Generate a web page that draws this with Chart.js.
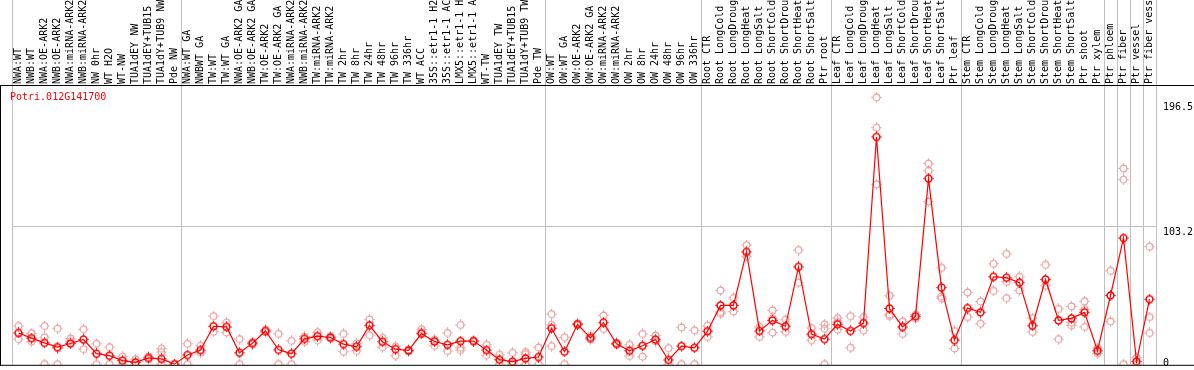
<!DOCTYPE html>
<html lang="en">
<head>
<meta charset="UTF-8">
<title>Potri.012G141700</title>
<script src="https://cdn.jsdelivr.net/npm/chart.js"></script>
<style>
  body { margin: 0; background: #fff; }
  canvas { display: block; }
</style>
</head>
<body>
<canvas id="grafico" width="1194" height="370"></canvas>
<script>
const geneName = 'Potri.012G141700';

const labels = [
  'NWA:WT', 'NWB:WT', 'NWA:OE-ARK2', 'NWB:OE-ARK2', 'NWA:miRNA-ARK2', 'NWB:miRNA-ARK2', 'NW 0hr', 'WT H2O', 'WT-NW',
  'TUA1dEY NW', 'TUA1dEY+TUB15', 'TUA1dY+TUB9 NW', 'Pde NW',
  'NWA:WT GA', 'NWBWT GA', 'TW:WT', 'TW:WT GA', 'NWA:OE-ARK2 GA', 'NWB:OE-ARK2 GA', 'TW:OE-ARK2', 'TW:OE-ARK2 GA',
  'NWA:miRNA-ARK2', 'NWB:miRNA-ARK2', 'TW:miRNA-ARK2', 'TW:miRNA-ARK2', 'TW 2hr', 'TW 8hr', 'TW 24hr', 'TW 48hr',
  'TW 96hr', 'TW 336hr', 'WT ACC', '35S::etr1-1 H2', '35S::etr1-1 AC', 'LMX5::etr1-1 H', 'LMX5::etr1-1 A', 'WT-TW',
  'TUA1dEY TW', 'TUA1dEY+TUB15', 'TUA1dY+TUB9 TW', 'Pde TW',
  'OW:WT', 'OW:WT GA', 'OW:OE-ARK2', 'OW:OE-ARK2 GA', 'OW:miRNA-ARK2', 'OW:miRNA-ARK2', 'OW 2hr', 'OW 8hr',
  'OW 24hr', 'OW 48hr', 'OW 96hr', 'OW 336hr',
  'Root CTR', 'Root LongCold', 'Root LongDroug', 'Root LongHeat', 'Root LongSalt', 'Root ShortCold', 'Root ShortDrou',
  'Root ShortHeat', 'Root ShortSalt', 'Ptr root',
  'Leaf CTR', 'Leaf LongCold', 'Leaf LongDroug', 'Leaf LongHeat', 'Leaf LongSalt', 'Leaf ShortCold', 'Leaf ShortDrou',
  'Leaf ShortHeat', 'Leaf ShortSalt', 'Ptr leaf',
  'Stem CTR', 'Stem LongCold', 'Stem LongDroug', 'Stem LongHeat', 'Stem LongSalt', 'Stem ShortCold', 'Stem ShortDrou',
  'Stem ShortHeat', 'Stem ShortSalt', 'Ptr shoot', 'Ptr xylem',
  'Ptr phloem', 'Ptr fiber', 'Ptr vessel', 'Ptr fiber vess'
];

// first category of each group (a grey line is drawn before it)
const groupStarts = [0, 13, 41, 53, 63, 73, 84, 85, 86, 87];

// mean expression
const means = [
  23.3, 19.4, 15.9, 12.7, 15.4, 18.4, 7.8, 6.3, 2.6, 1.3, 4.6, 3.9, 0,
  6.8, 10.5, 28.3, 27.8, 8.5, 15.7, 24.8, 10.7, 7.8, 18.9, 20.9, 19.9, 15.0, 13.0, 29.0, 16.7,
  11.2, 10.2, 22.8, 16.9, 14.4, 17.2, 17.2, 10.5, 3.3, 1.9, 4.3, 5.3,
  26.8, 9.3, 29.8, 19.6, 31.0, 15.2, 10.0, 13.7, 18.4, 3.1, 13.5, 12.2,
  24.6, 43.9, 43.9, 83.9, 24.8, 32.7, 28.3, 72.7, 22.4, 18.7,
  29.8, 24.8, 30.7, 169.8, 41.6, 27.8, 35.7, 138.7, 57.2, 17.9,
  41.9, 38.7, 65.3, 64.6, 60.9, 28.7, 63.3, 32.7, 34.2, 38.7, 10.0,
  51.3, 94.2, 1.9, 48.5
];

// replicates
const rep1 = [
  28.5, 23.1, 28.5, 26.5, 19.1, 26.1, 15.2, 12.7, 5.6, 3.6, 5.6, 11.5, 0,
  15.2, 13.7, 35.9, 31.0, 18.7, 16.5, 25.6, 22.6, 17.4, 16.7, 23.8, 21.0, 22.6, 15.4, 33.5, 19.6,
  13.2, 10.8, 26.1, 13.7, 23.3, 29.3, 17.8, 14.4, 7.0, 8.5, 9.0, 12.4,
  37.4, 20.1, 30.5, 18.5, 36.4, 16.0, 14.4, 22.6, 21.4, 12.0, 27.5, 25.3,
  28.7, 55.0, 49.5, 89.0, 27.8, 40.1, 33.2, 85.3, 27.0, 29.8,
  34.4, 35.9, 35.2, 199.4, 51.2, 32.0, 34.2, 149.9, 72.0, 24.8,
  53.5, 46.8, 75.0, 82.4, 65.3, 34.4, 74.2, 41.3, 43.1, 47.0, 12.0,
  69.8, 146.3, 4.8, 87.8
];
const rep2 = [
  18.7, 16.9, 20.1, 0, 17.2, 11.2, 0, 0, 0, 0, 3.6, 9.0, null,
  0, 8.5, 24.3, 23.6, 0, 14.8, 23.9, 0, 0, 20.5, 17.9, 18.8, 9.3, 9.8, 21.6, 12.7,
  6.3, 9.6, 24.0, 18.5, 9.8, 12.2, 16.6, 6.8, 0, 0, 7.5, 0,
  29.3, 0, 29.0, 21.0, 26.3, 14.5, 6.1, 5.6, 17.0, 0, 0, 0,
  20.4, 37.7, 39.4, 80.4, 20.4, 23.6, 24.1, 60.9, 17.9, 26.5,
  31.5, 12.2, 25.3, 176.7, 37.2, 22.6, 37.0, 144.6, 50.5, 11.7,
  35.2, 30.2, 54.7, 61.6, 55.0, 24.1, 58.6, 18.7, 29.0, 27.8, 8.0,
  32.0, 137.9, 0, 35.2
];
const rep3 = [
  null, null, 0, 11.6, null, null, null, null, null, null, null, 0, null,
  null, null, null, null, null, null, null, null, null, null, null, null, null, null, null, null,
  null, null, null, null, null, 10.5, null, null, null, null, 0, null,
  13.5, null, null, null, null, null, null, null, null, null, null, null,
  null, 39.0, null, null, null, 34.5, null, null, null, 0,
  26.0, null, null, 134.4, 36.0, null, null, 121.6, 49.0, null,
  null, null, null, 49.3, null, null, null, null, 31.0, 41.0, null,
  null, 0, null, 23.3
];

const yTicks = [0, 103.2, 196.5];
const yMin = -0.5;
const yMax = 207.9;

const fonte = { family: 'DejaVu Sans Mono', size: 10 };

// ring with four little spikes, like the original plot markers
function marcador(cor, largura) {
  const c = document.createElement('canvas');
  c.width = 11;
  c.height = 11;
  const g = c.getContext('2d');
  g.strokeStyle = cor;
  g.fillStyle = cor;
  g.lineWidth = largura;
  g.beginPath();
  g.arc(5.5, 5.5, 3.4, 0, Math.PI * 2);
  g.stroke();
  g.fillRect(5, 0.3, 1, 1.5);
  g.fillRect(5, 9.2, 1, 1.5);
  g.fillRect(0.3, 5, 1.5, 1);
  g.fillRect(9.2, 5, 1.5, 1);
  return c;
}

const corMedia = '#ff0000';
const corRep = '#ec9a9a';
const pontoMedia = marcador(corMedia, 1.5);
const pontoRep = marcador(corRep, 1.1);
const recorte = { left: 10, right: 10, top: 10, bottom: 0 };

function serieRep(dados) {
  return {
    data: dados,
    showLine: false,
    pointStyle: pontoRep,
    pointRadius: 4,
    clip: recorte,
    order: 1
  };
}

// black frame and the gene name
const moldura = {
  id: 'moldura',
  afterDraw(chart) {
    const { ctx, chartArea, width } = chart;
    ctx.save();
    ctx.fillStyle = '#000';
    ctx.fillRect(0, chartArea.top - 1, width, 1);
    ctx.fillRect(0, chartArea.bottom, width, 1);
    ctx.fillRect(0, chartArea.top - 1, 1, chartArea.bottom - chartArea.top + 2);
    ctx.fillStyle = corMedia;
    ctx.font = '10px "DejaVu Sans Mono"';
    ctx.textBaseline = 'middle';
    ctx.fillText(geneName, 10, chartArea.top + 11);
    ctx.restore();
  }
};

new Chart(document.getElementById('grafico'), {
  type: 'line',
  data: {
    labels: labels,
    datasets: [
      {
        data: means,
        borderColor: corMedia,
        borderWidth: 1.2,
        pointStyle: pontoMedia,
        pointRadius: 4,
        tension: 0,
        fill: false,
        clip: recorte,
        order: 0
      },
      serieRep(rep1),
      serieRep(rep2),
      serieRep(rep3)
    ]
  },
  options: {
    responsive: false,
    devicePixelRatio: 1,
    animation: false,
    layout: { padding: { left: 12, right: 0, top: 0, bottom: 1 } },
    plugins: { legend: { display: false }, tooltip: { enabled: false } },
    scales: {
      x: {
        type: 'category',
        position: 'top',
        offset: true,
        grid: {
          offset: true,
          tickLength: 86,
          color: ctx => (ctx.index === undefined || groupStarts.includes(ctx.index)) ? '#c0c0c0' : 'rgba(0,0,0,0)'
        },
        border: { display: false },
        ticks: {
          autoSkip: false,
          minRotation: 90,
          maxRotation: 90,
          padding: -84,
          labelOffset: 12,
          color: '#000',
          font: fonte
        },
        afterFit(s) {
          s.height = 86;
          s.paddingLeft = 0;
          s.paddingRight = 0;
        }
      },
      y: {
        position: 'right',
        min: yMin,
        max: yMax,
        afterBuildTicks(s) {
          s.ticks = yTicks.map(v => ({ value: v }));
        },
        grid: {
          drawTicks: false,
          color: ctx => (ctx.tick && ctx.tick.value === yTicks[1]) ? '#c0c0c0' : 'rgba(0,0,0,0)'
        },
        border: { display: false },
        ticks: {
          padding: 7,
          labelOffset: 6,
          color: '#000',
          font: { family: 'DejaVu Sans Mono', size: 10, lineHeight: 1.35 },
          callback: v => v === 0 ? ['0', ''] : String(v)
        },
        afterFit(s) {
          s.width = 38;
          s.paddingTop = 0;
          s.paddingBottom = 0;
        }
      }
    }
  },
  plugins: [moldura]
});
</script>
</body>
</html>
